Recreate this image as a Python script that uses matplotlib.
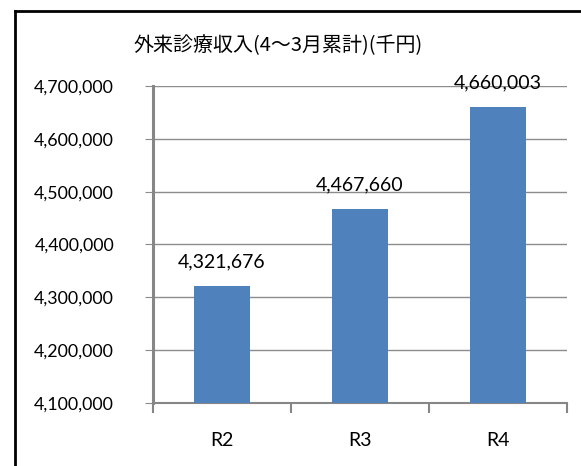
import matplotlib.pyplot as plt
from matplotlib.ticker import FuncFormatter
from matplotlib.lines import Line2D

categories = ['R2', 'R3', 'R4']
values = [4321676, 4467660, 4660003]
title = '外来診療収入(4～3月累計)(千円)'

BAR = '#4F81BD'
GRID = '#8C8C8C'

plt.rcParams['font.family'] = ['Lato', 'DejaVu Sans']

fig = plt.figure(figsize=(5.81, 4.66), dpi=100)
ax = fig.add_axes([0.2633, 0.1352, 0.9759 - 0.2633, 0.8155 - 0.1352])

x = range(len(categories))
bars = ax.bar(x, values, width=0.4, color=BAR, zorder=3)
ax.set_xlim(-0.5, len(categories) - 0.5)
ax.set_ylim(4100000, 4700000)
ax.set_yticks(range(4100000, 4700001, 100000))
ax.yaxis.set_major_formatter(FuncFormatter(lambda v, p: f'{int(v):,}'))
ax.set_xticks([-0.5, 0.5, 1.5, 2.5], minor=False)
ax.set_xticklabels([])
ax.set_xticks(list(x), minor=True)
ax.set_xticklabels(categories, minor=True)

ax.grid(axis='y', color=GRID, linewidth=1, zorder=0)
for s in ['top', 'right']:
    ax.spines[s].set_visible(False)
ax.spines['left'].set_color('#868686')
ax.spines['left'].set_linewidth(2.2)
ax.spines['bottom'].set_color('#868686')
ax.spines['bottom'].set_linewidth(1.5)

ax.tick_params(axis='y', which='major', length=6, color=GRID, labelsize=12.8, pad=22)
ax.tick_params(axis='x', which='major', length=7, color='#868686', width=1.5)
ax.tick_params(axis='x', which='minor', length=0, labelsize=14, pad=21)

for b, v in zip(bars, values):
    ax.annotate(f'{v:,}', (b.get_x() + b.get_width() / 2, v),
                xytext=(0, 11), textcoords='offset points',
                ha='center', va='bottom', fontsize=14, zorder=4)

fig.text(0.229, 0.903, title, fontsize=14.4, va='center', ha='left',
         family=['Noto Sans CJK JP', 'DejaVu Sans'])

# chart frame (only left and top visible in the cut)
fig.add_artist(Line2D([0.026, 0.026], [0.0, 0.977], color='black', linewidth=2,
                      transform=fig.transFigure))
fig.add_artist(Line2D([0.026, 1.0], [0.977, 0.977], color='black', linewidth=2,
                      transform=fig.transFigure))

fig.savefig('out.png', dpi=100)
